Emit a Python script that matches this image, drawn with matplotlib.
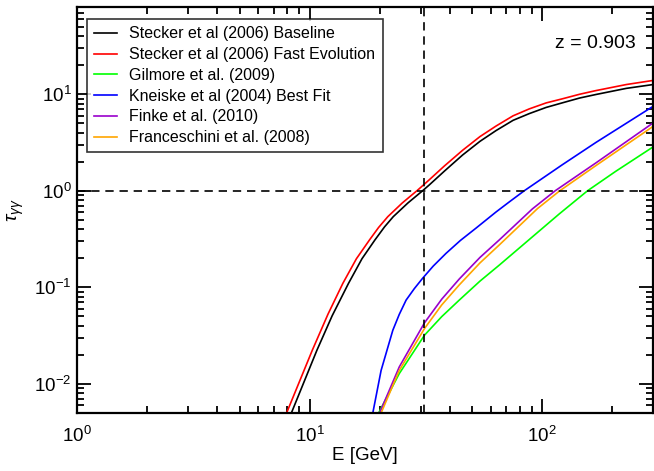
import numpy as np
import matplotlib
matplotlib.use("Agg")
import matplotlib.pyplot as plt
from matplotlib.ticker import LogLocator, FuncFormatter, NullFormatter

plt.rcParams["font.family"] = ["Liberation Sans", "DejaVu Sans"]
plt.rcParams["mathtext.fontset"] = "custom"
plt.rcParams["mathtext.rm"] = "Liberation Sans"
plt.rcParams["mathtext.it"] = "Liberation Sans:italic"

# ─── Data ────────────────────────────────────────────────────────────────────

redshift = 0.903
e_cut = 30.9          # vertical dashed line [GeV]

stecker_base_e   = [8.35, 10.75, 12.5, 14.7, 16.8, 19.1, 21.0, 22.9, 26.5, 30.6, 32.7, 38.0, 45.5, 54.0,
                    63.3, 75.0, 88.0, 104.0, 122.0, 145.0, 170.0, 230.0, 300.0]
stecker_base_tau = [0.005, 0.0223, 0.0507, 0.110, 0.198, 0.31, 0.423, 0.54, 0.75, 1.0, 1.15, 1.6, 2.35, 3.25,
                    4.2, 5.37, 6.3, 7.3, 8.14, 9.14, 9.93, 11.5, 12.6]

stecker_fast_e   = [7.99, 10.27, 12.0, 13.9, 15.9, 18.1, 19.8, 21.7, 25.0, 29.2, 32.7, 38.0, 45.5, 54.0,
                    63.3, 75.0, 88.0, 104.0, 122.0, 145.0, 170.0, 230.0, 300.0]
stecker_fast_tau = [0.0051, 0.0223, 0.0528, 0.110, 0.198, 0.31, 0.417, 0.54, 0.746, 1.02, 1.30, 1.81, 2.63, 3.64,
                    4.68, 5.98, 7.05, 8.13, 8.96, 10.0, 10.9, 12.6, 13.9]

gilmore_e   = [19.8, 24.3, 31.2, 37.0, 44.0, 54.0, 65.4, 118.3, 156.6, 207.0, 300.0]
gilmore_tau = [0.005, 0.0128, 0.032, 0.0498, 0.0738, 0.116, 0.17, 0.575, 1.0, 1.59, 2.85]

kneiske_e   = [18.7, 20.3, 22.8, 24.3, 26.0, 28.2, 30.6, 34.0, 38.6, 44.5, 51.9, 63.3, 72.2, 83.7,
               122.0, 170.0, 300.0]
kneiske_tau = [0.005, 0.0138, 0.036, 0.0525, 0.0738, 0.097, 0.124, 0.166, 0.225, 0.306, 0.41, 0.603, 0.767, 1.0,
               1.86, 3.16, 7.5]

finke_e   = [20.0, 24.3, 31.2, 37.0, 44.0, 54.0, 65.4, 90.8, 113.7, 170.0, 300.0]
finke_tau = [0.005, 0.015, 0.043, 0.0755, 0.122, 0.204, 0.31, 0.65, 1.0, 1.94, 5.05]

francesc_e   = [20.3, 24.3, 31.2, 37.0, 44.0, 54.0, 65.4, 95.5, 109.0, 119.0, 170.0, 300.0]
francesc_tau = [0.005, 0.0138, 0.0375, 0.0658, 0.106, 0.179, 0.275, 0.655, 0.845, 1.0, 1.82, 4.65]

series = [
    ("Stecker et al (2006) Baseline",       stecker_base_e, stecker_base_tau, "black"),
    ("Stecker et al (2006) Fast Evolution", stecker_fast_e, stecker_fast_tau, "#ff0000"),
    ("Gilmore et al. (2009)",               gilmore_e,      gilmore_tau,      "#00ff00"),
    ("Kneiske et al (2004) Best Fit",       kneiske_e,      kneiske_tau,      "#0000ff"),
    ("Finke et al. (2010)",                 finke_e,        finke_tau,        "#9900cc"),
    ("Franceschini et al. (2008)",          francesc_e,     francesc_tau,     "#ffa500"),
]

# ─── Plot ────────────────────────────────────────────────────────────────────

fig = plt.figure(figsize=(6.54, 4.71), dpi=100)
ax = fig.add_axes([0.1177, 0.1231, 0.881, 0.862])

for label, e, tau, color in series:
    ax.plot(e, tau, color=color, lw=1.2, label=label)

ax.axvline(e_cut, color="black", ls=(0, (5, 3.5)), lw=1.2)
ax.axhline(1.0, color="black", ls=(0, (5, 3.5)), lw=1.2)

ax.set_xscale("log")
ax.set_yscale("log")
ax.set_xlim(1, 300)
ax.set_ylim(0.005, 80)

fmt = FuncFormatter(lambda v, p: r"$10^{%d}$" % round(np.log10(v)))
ax.xaxis.set_major_formatter(fmt)
ax.yaxis.set_major_formatter(fmt)
ax.xaxis.set_minor_formatter(NullFormatter())
ax.yaxis.set_minor_formatter(NullFormatter())
ax.xaxis.set_minor_locator(LogLocator(base=10, subs=np.arange(2, 10)))
ax.yaxis.set_minor_locator(LogLocator(base=10, subs=np.arange(2, 10)))

ax.tick_params(which="both", direction="in", top=True, right=True, width=1.3, labelsize=13.5)
ax.tick_params(which="major", length=10)
ax.tick_params(which="minor", length=5)
ax.tick_params(axis="x", which="major", pad=9)
ax.tick_params(axis="y", which="major", pad=4)
for s in ax.spines.values():
    s.set_linewidth(1.6)

ax.set_xlabel("E [GeV]", fontsize=13.5, labelpad=1)
ax.set_ylabel(r"$\tau_{\gamma\gamma}$", fontsize=14, labelpad=6)

ax.text(0.969, 0.911, "z = %.3f" % redshift, transform=ax.transAxes,
        ha="right", va="center", fontsize=14)

leg = ax.legend(loc="upper left", fontsize=11.5, frameon=True, fancybox=False,
                handlelength=1.45, handletextpad=0.75, borderpad=0.45,
                labelspacing=0.36, borderaxespad=0, bbox_to_anchor=(0.0174, 0.97))
leg.get_frame().set_edgecolor("black")
leg.get_frame().set_linewidth(1.2)

fig.savefig("out.png", dpi=100)
